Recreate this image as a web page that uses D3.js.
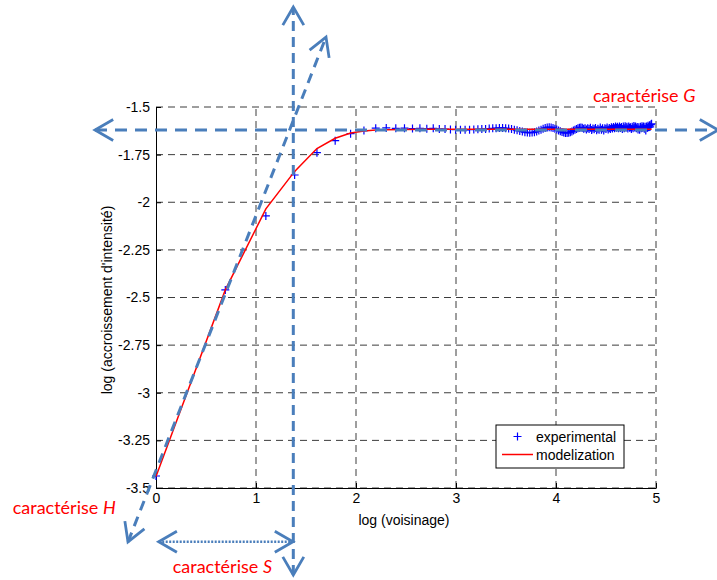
<!DOCTYPE html>
<html><head><meta charset="utf-8">
<script src="https://cdn.jsdelivr.net/npm/d3@7"></script>
<style>
html,body{margin:0;padding:0;background:#fff;}
svg{display:block;}
</style></head>
<body>
<svg id="chart" width="717" height="580"></svg>
<script>
// ---------- data ----------
const xTicks = [0, 1, 2, 3, 4, 5];
const yTicks = [-1.5, -1.75, -2, -2.25, -2.5, -2.75, -3, -3.25, -3.5];
const xLabel = "log (voisinage)";
const yLabel = "log (accroissement d'intensité)";
const legendLabels = ["experimental", "modelization"];

// neighbourhood sizes (voisinage) n = 1..142 ; plotted at log(n)
const voisinage = d3.range(1, 143);
// experimental log(intensity increase) for each neighbourhood size
const experimental = [
 -3.437,-2.460,-2.072,-1.857,-1.740,-1.677,-1.640,-1.624,-1.611,-1.610,
 -1.612,-1.611,-1.613,-1.612,-1.614,-1.612,-1.615,-1.616,-1.618,-1.619,
 -1.620,-1.620,-1.619,-1.618,-1.617,-1.616,-1.615,-1.613,-1.612,-1.611,
 -1.610,-1.610,-1.611,-1.613,-1.616,-1.619,-1.622,-1.626,-1.629,-1.632,
 -1.634,-1.635,-1.634,-1.632,-1.628,-1.624,-1.619,-1.614,-1.610,-1.607,
 -1.606,-1.607,-1.610,-1.614,-1.618,-1.623,-1.627,-1.631,-1.634,-1.636,
 -1.636,-1.635,-1.632,-1.628,-1.624,-1.620,-1.616,-1.612,-1.609,-1.607,
 -1.609,-1.614,-1.611,-1.618,-1.612,-1.616,-1.609,-1.621,-1.613,-1.617,
 -1.610,-1.622,-1.614,-1.619,-1.608,-1.620,-1.612,-1.623,-1.611,-1.616,
 -1.607,-1.618,-1.610,-1.615,-1.606,-1.613,-1.605,-1.611,-1.603,-1.609,
 -1.604,-1.612,-1.602,-1.610,-1.605,-1.615,-1.603,-1.611,-1.601,-1.608,
 -1.604,-1.613,-1.602,-1.609,-1.606,-1.616,-1.604,-1.611,-1.600,-1.607,
 -1.603,-1.612,-1.605,-1.618,-1.606,-1.620,-1.604,-1.611,-1.601,-1.609,
 -1.602,-1.614,-1.604,-1.623,-1.603,-1.610,-1.598,-1.606,-1.596,-1.604,
 -1.592,-1.588
];
// model curve
const modelVoisinage = [1, 2, 3, 4, 5, 6, 7, 8, 9, 10, 12, 15, 20, 142];
const modelization = [-3.44, -2.46, -2.035, -1.838, -1.718, -1.664, -1.637, -1.626, -1.621, -1.619, -1.618, -1.617, -1.617, -1.617];

// annotation arrows (data units: [log voisinage, log accroissement])
const annotG = [[-0.61, -1.621], [5.62, -1.621]];   // caractérise G (horizontal)
const annotSline = [[1.373, -3.957], [1.373, -0.975]]; // vertical
const annotH = [[-0.28, -3.783], [1.70, -1.133]];   // caractérise H (slope)
const annotS = [[0.027, -3.782], [1.370, -3.782]];   // caractérise S (span)
const annotLabels = [
  {pre: "caractérise ", it: "G", at: [4.37, -1.5 + (107 - 102) / 190.5]},
  {pre: "caractérise ", it: "H", at: [-1.433, -3.5 - (514 - 488) / 190.5]},
  {pre: "caractérise ", it: "S", at: [0.167, -3.5 - (573 - 488) / 190.5]}
];

// ---------- drawing ----------
const svg = d3.select("#chart");
const x = d3.scaleLinear().domain([0, 5]).range([156, 656]);
const y = d3.scaleLinear().domain([-3.5, -1.5]).range([488, 107]);
const AX = "Liberation Sans, Arial, sans-serif";

// grid
const grid = svg.append("g").attr("stroke", "#3c3c3c").attr("stroke-width", 1)
  .attr("stroke-dasharray", "7,5").attr("fill", "none");
xTicks.filter(d => d > 0).forEach(d => grid.append("line")
  .attr("x1", x(d)).attr("x2", x(d)).attr("y1", y(-3.5)).attr("y2", y(-1.5)));
yTicks.forEach(d => grid.append("line")
  .attr("x1", x(0)).attr("x2", x(5)).attr("y1", y(d)).attr("y2", y(d)));

// axes
const fmt = d => String(d);
const gx = svg.append("g").attr("transform", `translate(0,${y(-3.5)})`)
  .call(d3.axisBottom(x).tickValues(xTicks).tickFormat(fmt).tickSizeInner(-5).tickSizeOuter(0).tickPadding(5));
const gy = svg.append("g").attr("transform", `translate(${x(0)},0)`)
  .call(d3.axisLeft(y).tickValues(yTicks).tickFormat(fmt).tickSizeInner(-5).tickSizeOuter(0).tickPadding(6));
[gx, gy].forEach(g => {
  g.selectAll("text").attr("font-family", AX).attr("font-size", 14).attr("fill", "#000");
  g.selectAll("line").attr("stroke", "#000");
  g.select(".domain").attr("stroke", "#000");
});
gx.selectAll(".tick line").filter(d => d === 5).attr("stroke", "#000");

svg.append("text").attr("x", 404).attr("y", 525).attr("text-anchor", "middle")
  .attr("font-family", AX).attr("font-size", 14).text(xLabel);
svg.append("text").attr("transform", "translate(107,300) rotate(-90)").attr("dy", "0.35em")
  .attr("text-anchor", "middle").attr("font-family", AX).attr("font-size", 14).text(yLabel);

// experimental crosses
const pts = voisinage.map((n, i) => [Math.log(n), experimental[i]]);
svg.append("g").selectAll("path").data(pts).join("path")
  .attr("transform", d => `translate(${x(d[0])},${y(d[1])})`)
  .attr("d", "M-4,0H4M0,-4V4").attr("stroke", "#0000ff").attr("stroke-width", 1.2).attr("fill", "none");

// model line
const line = d3.line().x(d => x(d[0])).y(d => y(d[1]));
svg.append("path").datum(modelVoisinage.map((n, i) => [Math.log(n), modelization[i]]))
  .attr("d", line).attr("fill", "none").attr("stroke", "#ff0000").attr("stroke-width", 1.5);

// annotations
const AC = "#4a7ebb";
const ann = svg.append("g").attr("fill", "none").attr("stroke", AC).attr("stroke-linecap", "butt");
function chevron(tip, from) {
  const [tx, ty] = [x(tip[0]), y(tip[1])], [fx, fy] = [x(from[0]), y(from[1])];
  const a = Math.atan2(fy - ty, fx - tx), L = 21, s = Math.PI / 6;
  const p1 = [tx + L * Math.cos(a + s), ty + L * Math.sin(a + s)];
  const p2 = [tx + L * Math.cos(a - s), ty + L * Math.sin(a - s)];
  ann.append("path").attr("d", `M${p1}L${tx},${ty}L${p2}`).attr("stroke-width", 2.8)
    .attr("stroke-linejoin", "miter");
}
function dashed(seg, dash, w) {
  ann.append("path").attr("d", line(seg)).attr("stroke-width", w).attr("stroke-dasharray", dash);
}
dashed(annotG, "12,8", 3);
chevron(annotG[0], annotG[1]); chevron(annotG[1], annotG[0]);
dashed(annotSline, "10,6", 3);
chevron(annotSline[0], annotSline[1]); chevron(annotSline[1], annotSline[0]);
dashed(annotH, "10,7", 3);
chevron(annotH[0], annotH[1]); chevron(annotH[1], annotH[0]);
dashed(annotS, "2,1.5", 2.5);
chevron(annotS[0], annotS[1]); chevron(annotS[1], annotS[0]);

// red labels
annotLabels.forEach(l => {
  const t = svg.append("text").attr("x", x(l.at[0])).attr("y", y(l.at[1]))
    .attr("font-family", "Lato, 'Open Sans', sans-serif").attr("font-size", 18).attr("fill", "#ff0000");
  t.append("tspan").text(l.pre);
  t.append("tspan").attr("font-style", "italic").text(l.it);
});

// legend
const lg = svg.append("g");
lg.append("rect").attr("x", 496).attr("y", 425).attr("width", 128).attr("height", 43)
  .attr("fill", "#fff").attr("stroke", "#000").attr("stroke-width", 1);
lg.append("path").attr("transform", "translate(517.5,436.5)").attr("d", "M-4,0H4M0,-4V4")
  .attr("stroke", "#0000ff").attr("stroke-width", 1.2);
lg.append("line").attr("x1", 502).attr("x2", 533).attr("y1", 454.5).attr("y2", 454.5)
  .attr("stroke", "#ff0000").attr("stroke-width", 1.5);
legendLabels.forEach((s, i) => lg.append("text").attr("x", 536).attr("y", 441.5 + i * 18)
  .attr("font-family", AX).attr("font-size", 14).text(s));
</script>
</body></html>
